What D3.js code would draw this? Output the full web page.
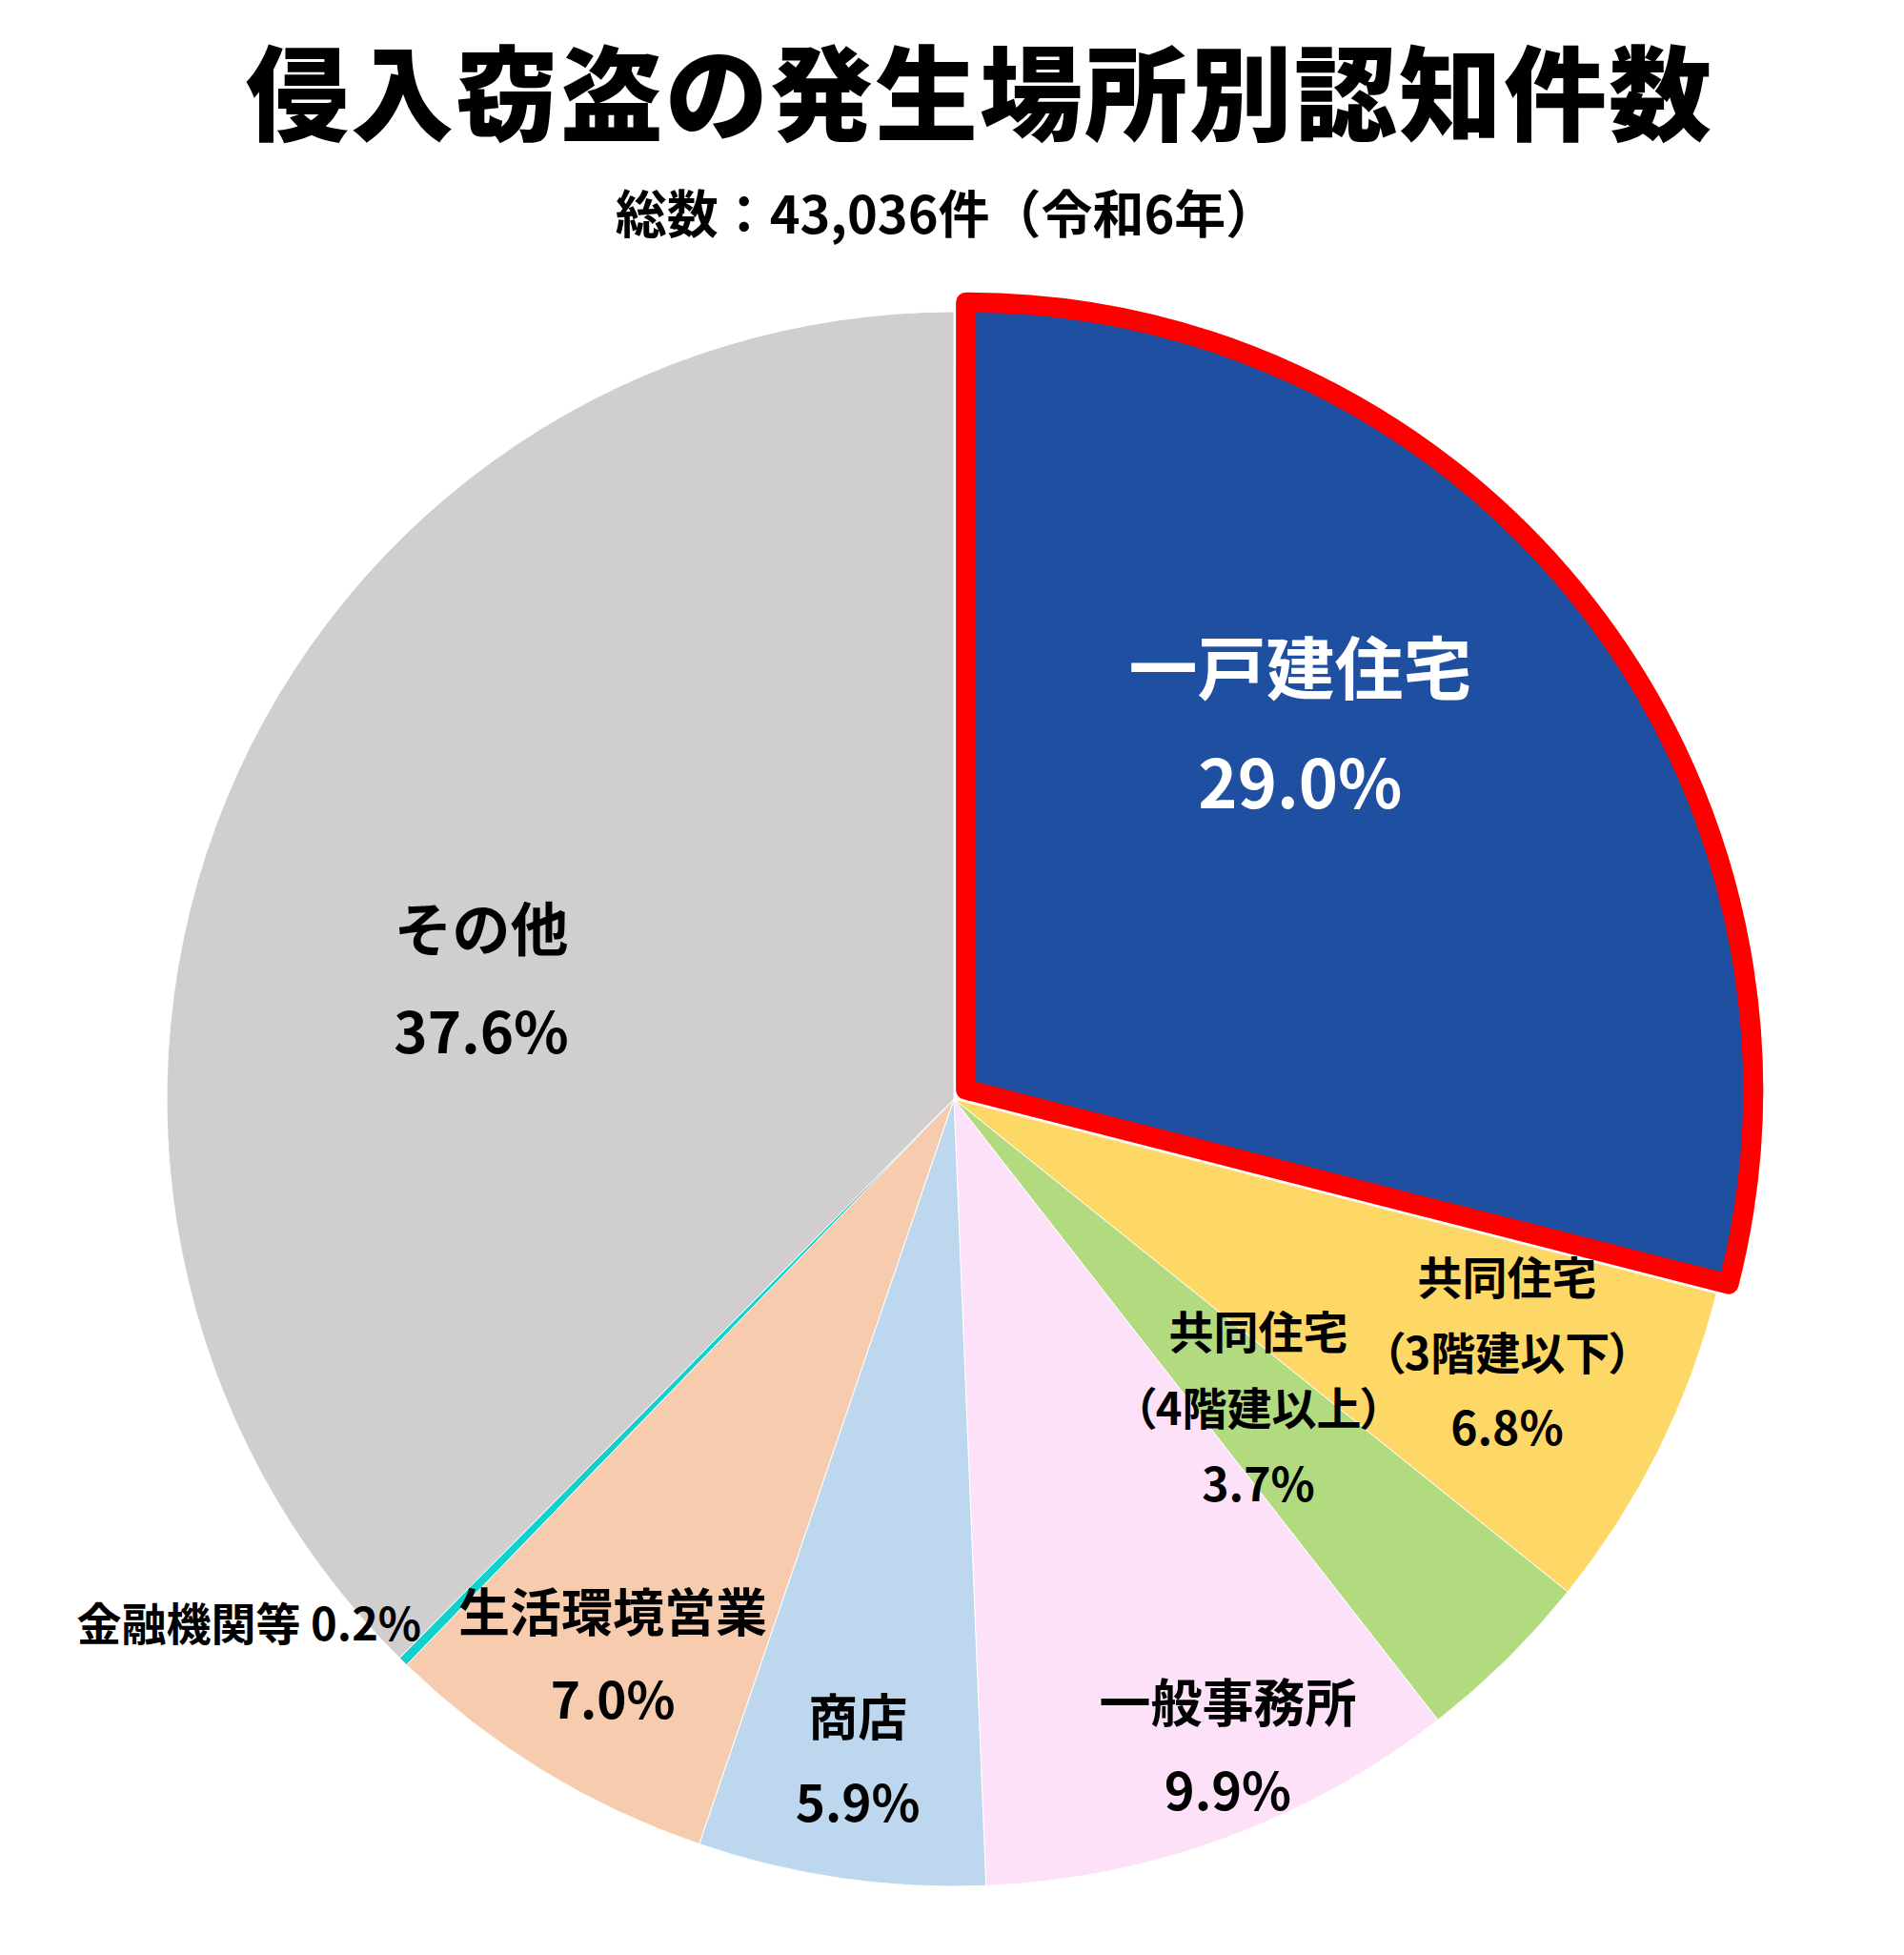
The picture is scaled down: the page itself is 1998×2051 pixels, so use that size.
<!DOCTYPE html>
<html lang="ja">
<head>
<meta charset="utf-8">
<script src="https://cdn.jsdelivr.net/npm/d3@7"></script>
<style>
  html, body { margin: 0; padding: 0; background: #fff; }
  svg { display: block; font-family: "Noto Sans CJK JP", "Noto Sans", sans-serif; }
</style>
</head>
<body>
<svg id="chart"></svg>
<script>
// Chart data (shares in %)
const titleText = "侵入窃盗の発生場所別認知件数";
const subtitleText = "総数：43,036件（令和6年）";
const categories = ["一戸建住宅", "共同住宅（3階建以下）", "共同住宅（4階建以上）", "一般事務所", "商店", "生活環境営業", "金融機関等", "その他"];
const labelLines = [["一戸建住宅"], ["共同住宅", "（3階建以下）"], ["共同住宅", "（4階建以上）"], ["一般事務所"], ["商店"], ["生活環境営業"], ["金融機関等"], ["その他"]];
const shares = [29.0, 6.8, 3.7, 9.9, 5.9, 7.0, 0.2, 37.6];
const sliceColors = ["#1f4fa0", "#fed866", "#b2da7f", "#fce1f9", "#bdd7ee", "#f7cbad", "#12d0cc", "#d0cece"];
const highlighted = "一戸建住宅";

// Layout
const width = 1998;
const height = 2051;
const cx = 1001, cy = 1153, radius = 826;
const explode = 16;

// label placement: radius fraction, angle shift (deg), font sizes, line gap
const labelRadius = [0.628, 0.773, 0.551, 0.893, 0.848, 0.83, 0.95, 0.619];
const labelShift = [-9.6, -1.9, 0, -2.8, 0, 0, 1.0, -8.3];
const nameSize = [72, 47, 47, 54, 52, 54, 47, 61];
const pctSize = [70, 48, 48, 54, 53, 53, 47, 60];
const lineGap = [121, 79, 80, 92, 89, 91, 0, 107];

const svg = d3.select("#chart")
  .attr("width", width)
  .attr("height", height)
  .attr("viewBox", [0, 0, width, height]);

svg.append("rect").attr("width", width).attr("height", height).attr("fill", "#fff");

// Titles
svg.append("text")
  .attr("x", 1028)
  .attr("y", 139)
  .attr("text-anchor", "middle")
  .attr("font-size", 108)
  .attr("font-weight", 900)
  .attr("letter-spacing", 2)
  .attr("fill", "#000")
  .text(titleText);

svg.append("text")
  .attr("x", 993)
  .attr("y", 245)
  .attr("text-anchor", "middle")
  .attr("font-size", 54)
  .attr("font-weight", 700)
  .attr("fill", "#000")
  .text(subtitleText);

const data = categories.map((c, i) => ({ name: c, value: shares[i], color: sliceColors[i], index: i }));

const pie = d3.pie().sort(null).value(d => d.value);
const arcs = pie(data);

const arc = d3.arc().innerRadius(0).outerRadius(radius);

// offset of the exploded slice
function sliceOffset(d) {
  if (d.data.name !== highlighted) return [0, 0];
  const a = (d.startAngle + d.endAngle) / 2;
  return [explode * Math.sin(a), -explode * Math.cos(a)];
}

const g = svg.append("g").attr("transform", `translate(${cx},${cy})`);

g.selectAll("path.slice")
  .data(arcs.filter(d => d.data.name !== highlighted))
  .join("path")
  .attr("class", "slice")
  .attr("d", arc)
  .attr("fill", d => d.data.color)
  .attr("stroke", "#fff")
  .attr("stroke-width", 1);

// highlighted slice, pulled out with red outline
g.selectAll("path.hl")
  .data(arcs.filter(d => d.data.name === highlighted))
  .join("path")
  .attr("class", "hl")
  .attr("transform", d => `translate(${sliceOffset(d)})`)
  .attr("d", arc)
  .attr("fill", d => d.data.color)
  .attr("stroke", "#ff0000")
  .attr("stroke-width", 21)
  .attr("stroke-linejoin", "round");

// Labels
const fmt = d => d3.format(".1f")(d) + "%";

arcs.forEach(d => {
  const i = d.data.index;
  const rr = radius * labelRadius[i];
  const a = (d.startAngle + d.endAngle) / 2 + labelShift[i] * Math.PI / 180;
  const labelArc = d3.arc().innerRadius(rr).outerRadius(rr);
  const [px, py] = labelArc.centroid({ startAngle: a, endAngle: a });
  const [ox, oy] = sliceOffset(d);
  const x = px + ox, y = py + oy;
  const fill = d.data.name === highlighted ? "#fff" : "#000";

  if (d.data.name === "金融機関等") {
    g.append("text")
      .attr("x", x)
      .attr("y", y + 0.375 * nameSize[i])
      .attr("text-anchor", "end")
      .attr("font-size", nameSize[i])
      .attr("font-weight", 700)
      .attr("fill", fill)
      .text(labelLines[i][0] + " " + fmt(d.data.value));
    return;
  }

  const lines = labelLines[i].map(t => ({ t, fs: nameSize[i] }))
    .concat([{ t: fmt(d.data.value), fs: pctSize[i] }]);
  const n = lines.length;
  lines.forEach((ln, k) => {
    const yc = y + (k - (n - 1) / 2) * lineGap[i];
    g.append("text")
      .attr("x", x)
      .attr("y", yc + 0.375 * ln.fs)
      .attr("text-anchor", "middle")
      .attr("font-size", ln.fs)
      .attr("font-weight", 700)
      .attr("fill", fill)
      .style("font-feature-settings", ln.t.startsWith("（") ? "'palt'" : "normal")
      .text(ln.t);
  });
});
</script>
</body>
</html>
